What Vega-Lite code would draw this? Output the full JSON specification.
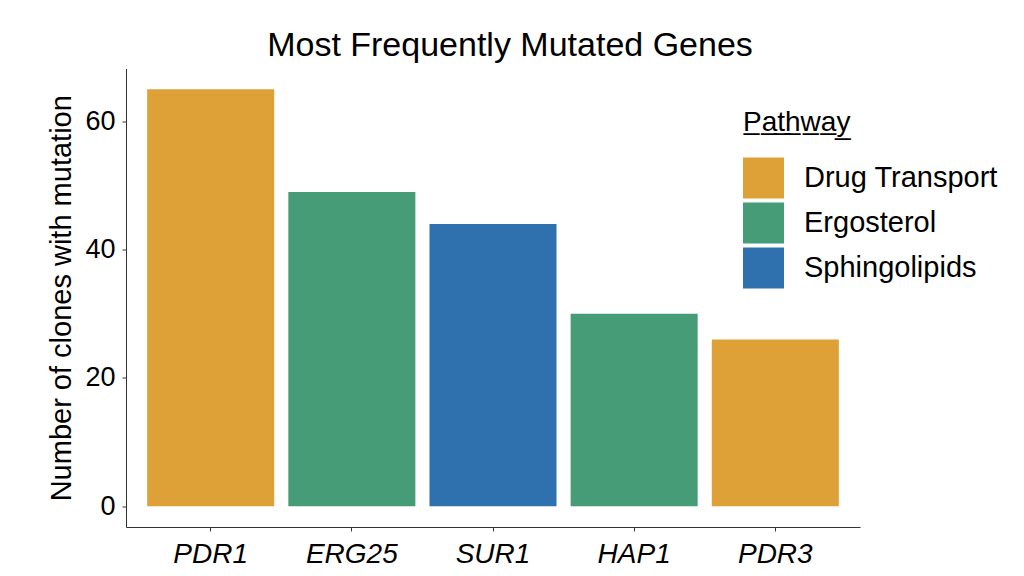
{
  "$schema": "https://vega.github.io/schema/vega-lite/v6.json",
  "width": 734,
  "height": 458.5,
  "autosize": {"type": "none"},
  "padding": {"left": 126, "top": 68.5, "right": 164, "bottom": 49},
  "background": "white",
  "title": {
    "text": "Most Frequently Mutated Genes",
    "font": "Liberation Sans",
    "fontSize": 34,
    "fontWeight": "normal",
    "color": "black",
    "anchor": "middle",
    "dx": 17,
    "dy": 33,
    "baseline": "alphabetic",
    "offset": 12
  },
  "data": {
    "values": [
      {"gene": "PDR1", "count": 65, "pathway": "Drug Transport"},
      {"gene": "ERG25", "count": 49, "pathway": "Ergosterol"},
      {"gene": "SUR1", "count": 44, "pathway": "Sphingolipids"},
      {"gene": "HAP1", "count": 30, "pathway": "Ergosterol"},
      {"gene": "PDR3", "count": 26, "pathway": "Drug Transport"}
    ]
  },
  "mark": {"type": "bar"},
  "encoding": {
    "x": {
      "field": "gene",
      "type": "nominal",
      "sort": null,
      "scale": {"paddingInner": 0.1, "paddingOuter": 0.15},
      "axis": {
        "title": null,
        "labelFont": "Liberation Sans",
        "labelFontSize": 28,
        "labelFontStyle": "italic",
        "labelColor": "black",
        "labelAngle": 0,
        "labelBaseline": "alphabetic",
        "labelPadding": 31,
        "tickSize": 4,
        "tickColor": "#333333",
        "domainColor": "#333333",
        "domainWidth": 1,
        "grid": false
      }
    },
    "y": {
      "field": "count",
      "type": "quantitative",
      "scale": {"domain": [-3.25, 68.25], "nice": false, "zero": false},
      "axis": {
        "title": "Number of clones with mutation",
        "titleFont": "Liberation Sans",
        "titleFontSize": 29,
        "titleFontWeight": "normal",
        "titleColor": "black",
        "titlePadding": 8,
        "values": [0, 20, 40, 60],
        "labelFont": "Liberation Sans",
        "labelFontSize": 27,
        "labelColor": "black",
        "labelPadding": 7,
        "tickSize": 4,
        "tickColor": "#333333",
        "domainColor": "#333333",
        "domainWidth": 1,
        "grid": false
      }
    },
    "color": {
      "field": "pathway",
      "type": "nominal",
      "scale": {
        "domain": ["Drug Transport", "Ergosterol", "Sphingolipids"],
        "range": ["#DDA137", "#459C76", "#2E71AE"]
      },
      "legend": {
        "title": "P̲a̲t̲h̲w̲a̲y̲",
        "orient": "none",
        "legendX": 617,
        "legendY": 40,
        "titleFont": "Liberation Sans",
        "titleFontSize": 28,
        "titleFontWeight": "normal",
        "titleColor": "black",
        "titlePadding": 21,
        "symbolType": "square",
        "symbolSize": 1681,
        "symbolStrokeWidth": 0,
        "symbolOpacity": 1,
        "labelFont": "Liberation Sans",
        "labelFontSize": 29,
        "labelColor": "black",
        "labelOffset": 20,
        "rowPadding": 4,
        "labelLimit": 300
      }
    }
  },
  "config": {
    "view": {"stroke": null}
  }
}
